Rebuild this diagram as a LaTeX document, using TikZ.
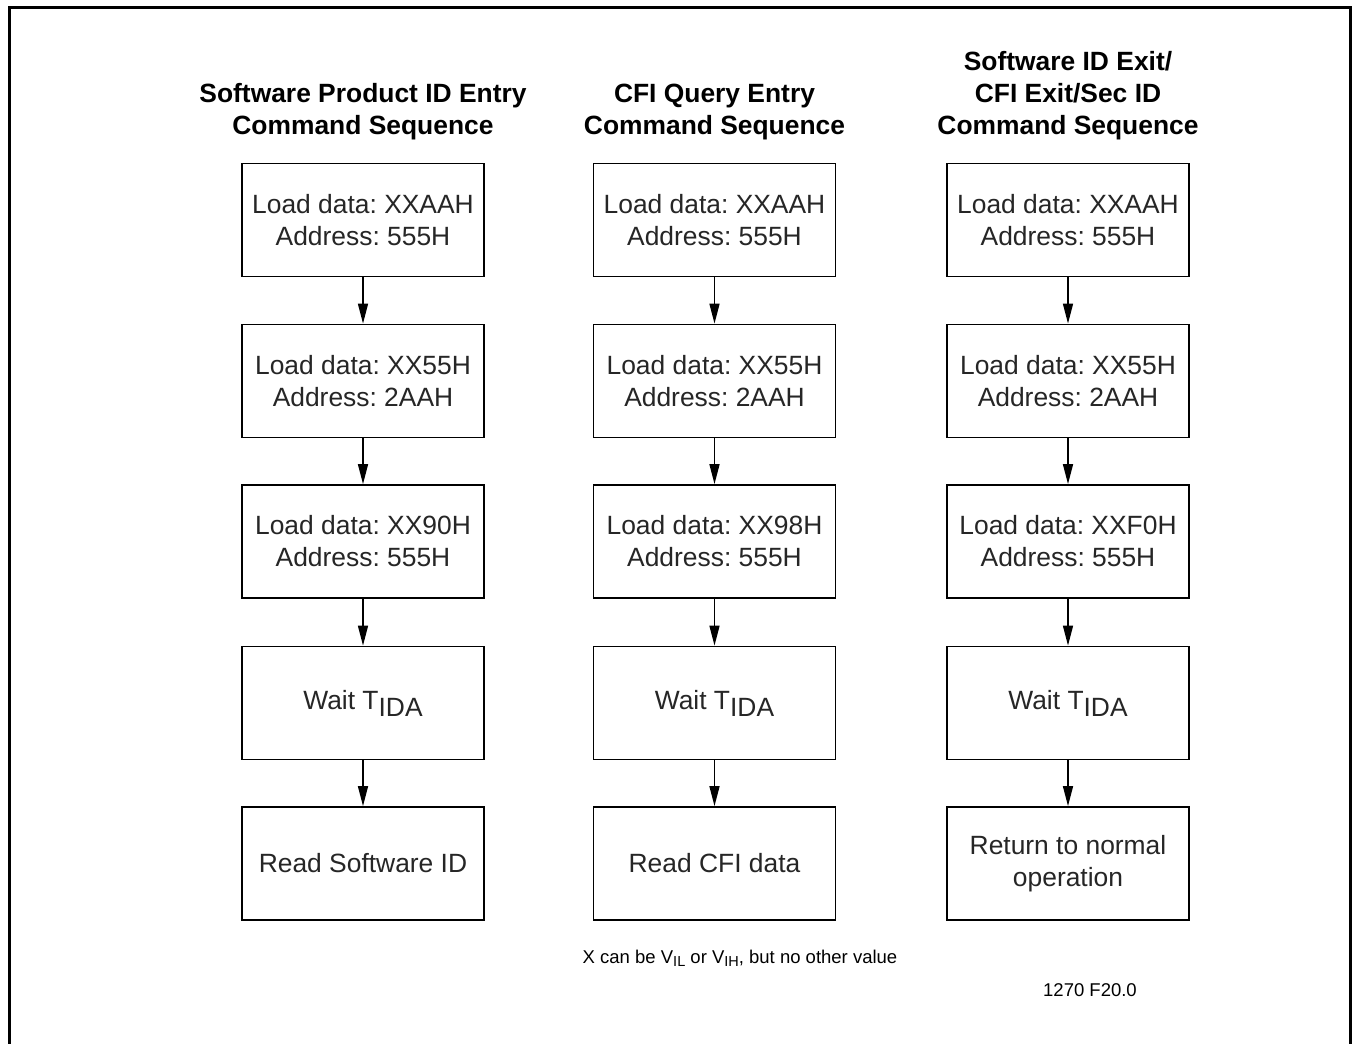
\documentclass[tikz,border=0pt]{standalone}
\usepackage{fontspec}
\setmainfont{Liberation Sans}
\usetikzlibrary{arrows.meta}
\frenchspacing
\newcommand{\lowsub}[1]{\raisebox{-7pt}{#1}}
\newcommand{\smallsub}[1]{\raisebox{-3pt}{\fontsize{14.5}{16}\selectfont #1}}
\tikzset{
  stepbox/.style={draw=black, line width=1.8pt, minimum width=242pt, minimum height=113pt,
    inner sep=0pt, align=center, font=\frenchspacing\fontsize{26.4}{32}\selectfont, text=black!85},
  title/.style={align=center, inner sep=0pt, font=\bfseries\fontsize{26.4}{32}\selectfont},
  flow/.style={line width=1.5pt, -{Triangle[length=20pt,width=10pt]}},
  note/.style={inner sep=0pt, font=\fontsize{18.5}{22}\selectfont}
}
\begin{document}
\begin{tikzpicture}[x=1pt,y=-1pt]
\useasboundingbox (0,0) rectangle (1353,1044);
\fill[white] (0,0) rectangle (1353,1044);
\draw[line width=3pt] (9,1050) -- (9,7) -- (1350,7) -- (1350,1050);

% titles
\node[title] (t1) at (363,112) {Software Product ID Entry\\Command Sequence};
\node[title] (t2) at (714.5,112) {CFI Query Entry\\Command Sequence};
\node[title] (t3) at (1068,96) {Software ID Exit/\\CFI Exit/Sec ID\\Command Sequence};

% column 1
\node[stepbox] (a1) at (363,220) {Load data: XXAAH\\Address: 555H};
\node[stepbox] (a2) at (363,381) {Load data: XX55H\\Address: 2AAH};
\node[stepbox] (a3) at (363,541.5) {Load data: XX90H\\Address: 555H};
\node[stepbox] (a4) at (363,703) {Wait T\lowsub{IDA}};
\node[stepbox] (a5) at (363,863.5) {Read Software ID};

% column 2
\node[stepbox] (b1) at (714.5,220) {Load data: XXAAH\\Address: 555H};
\node[stepbox] (b2) at (714.5,381) {Load data: XX55H\\Address: 2AAH};
\node[stepbox] (b3) at (714.5,541.5) {Load data: XX98H\\Address: 555H};
\node[stepbox] (b4) at (714.5,703) {Wait T\lowsub{IDA}};
\node[stepbox] (b5) at (714.5,863.5) {Read CFI data};

% column 3
\node[stepbox] (c1) at (1068,220) {Load data: XXAAH\\Address: 555H};
\node[stepbox] (c2) at (1068,381) {Load data: XX55H\\Address: 2AAH};
\node[stepbox] (c3) at (1068,541.5) {Load data: XXF0H\\Address: 555H};
\node[stepbox] (c4) at (1068,703) {Wait T\lowsub{IDA}};
\node[stepbox] (c5) at (1068,863.5) {Return to normal\\operation};

\foreach \c in {a,b,c}{
  \draw[flow] (\c1) -- (\c2);
  \draw[flow] (\c2) -- (\c3);
  \draw[flow] (\c3) -- (\c4);
  \draw[flow] (\c4) -- (\c5);
}

\node[note] (n1) at (740,958) {X can be V\smallsub{IL} or V\smallsub{IH}, but no other value};
\node[note] (n2) at (1090,990) {1270 F20.0};
\end{tikzpicture}
\end{document}
